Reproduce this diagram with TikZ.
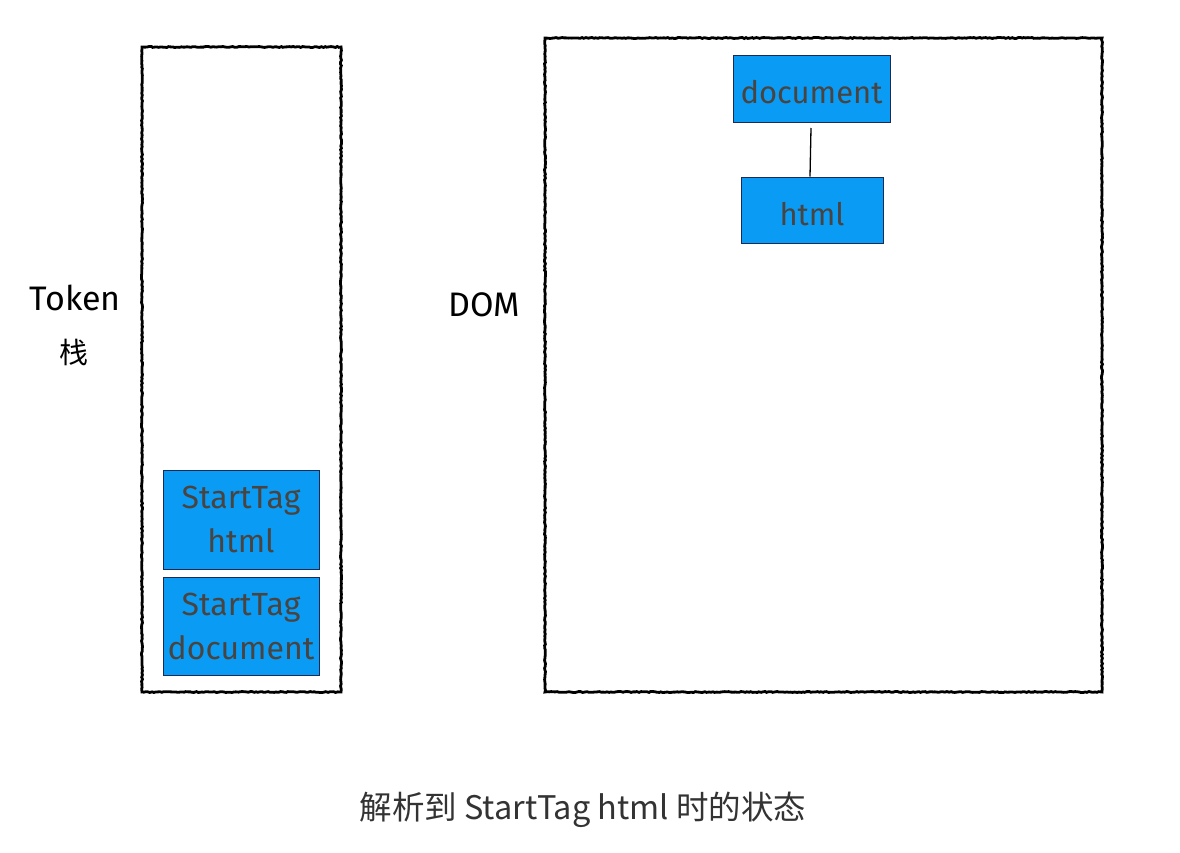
\documentclass[tikz,border=0pt]{standalone}
\usepackage{fontspec}
\setmainfont{Fira Sans}
\newfontfamily\cjk{Noto Sans CJK SC}
\usetikzlibrary{decorations.pathmorphing}
\definecolor{boxblue}{HTML}{0A9BF5}
\definecolor{boxedge}{HTML}{1C2A55}
\definecolor{boxtext}{HTML}{4A4440}
\definecolor{captext}{HTML}{333333}
\tikzset{
  frame/.style={draw=black, line width=2.8pt, decorate, decoration={random steps, segment length=2pt, amplitude=0.5pt}},
  tokbox/.style={draw=boxedge, fill=boxblue, line width=1pt, text=boxtext, font=\fontsize{32}{44}\selectfont, align=center, inner sep=0pt},
  domtext/.style={font=\fontsize{31}{40}\selectfont, text height=30pt, text depth=0pt},
  lbl/.style={font=\fontsize{34}{40}\selectfont, text=black, inner sep=0pt},
  conn/.style={draw=black, line width=1.3pt}
}
\begin{document}
\begin{tikzpicture}[x=1pt, y=-1pt]
\useasboundingbox (0,0) rectangle (1180,852);
% frames
\draw[frame] (142,47) rectangle (341,692);
\draw[frame] (545,38) rectangle (1102,692);
% labels
\node[lbl] (token) at (75,298) {Token};
\node[lbl, font=\cjk\fontsize{29}{34}\selectfont] (zhan) at (74,352) {栈};
\node[lbl] (dom) at (484,305) {DOM};
% token stack
\node[tokbox, minimum width=156pt, minimum height=99pt] (st1) at (241,519.5) {StartTag\\html};
\node[tokbox, minimum width=156pt, minimum height=98pt] (st2) at (241,626) {StartTag\\document};
% DOM tree
\node[tokbox, domtext, minimum width=157pt, minimum height=67pt] (ddoc) at (811.5,88.5) {document};
\node[tokbox, domtext, minimum width=142pt, minimum height=66pt] (dhtml) at (812,210) {html};
\coordinate (c1) at (811,128);
\draw[conn] (c1) -- (dhtml.north -| 810,0);
% caption
\node[font=\cjk\fontsize{32.5}{38}\selectfont, text=captext, inner sep=0pt] (cap) at (583,810) {解析到 StartTag html 时的状态};
\end{tikzpicture}
\end{document}
